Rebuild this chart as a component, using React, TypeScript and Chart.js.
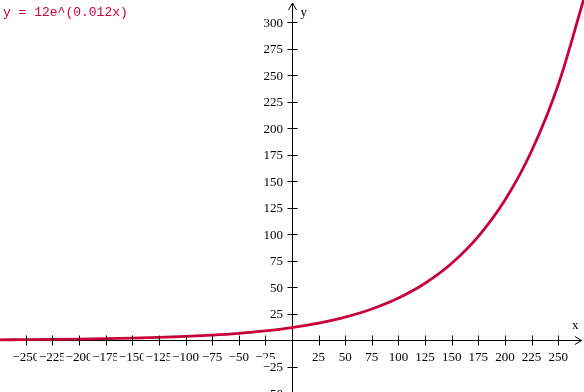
import React, { useEffect, useRef } from "react";
import { Chart, registerables } from "chart.js";

Chart.register(...registerables);

const xValues = [-275, -250, -225, -200, -175, -150, -125, -100, -75, -50, -25, 0, 25, 50, 75, 100, 125, 150, 175, 200, 225, 250, 275];
const yValues = [0.44, 0.6, 0.81, 1.09, 1.47, 1.98, 2.68, 3.61, 4.88, 6.59, 8.89, 12, 16.2, 21.87, 29.52, 39.84, 53.78, 72.6, 97.99, 132.28, 178.56, 241.03, 325.35];

const xTicks = [-250, -225, -200, -175, -150, -125, -100, -75, -50, -25, 25, 50, 75, 100, 125, 150, 175, 200, 225, 250];
const yTicks = [300, 275, 250, 225, 200, 175, 150, 125, 100, 75, 50, 25, -25, -50];

const titleText = "y = 12e^(0.012x)";
const curveColor = "rgb(200,0,60)";

const fmt = (v: number) => (v < 0 ? "\u2212" + Math.abs(v) : String(v));

const axesPlugin = {
  id: "axesPlugin",
  beforeDatasetsDraw(chart: any) {
    const ctx = chart.ctx;
    const xs = chart.scales.x;
    const ys = chart.scales.y;
    const ox = Math.round(xs.getPixelForValue(0)) + 0.5;
    const oy = Math.round(ys.getPixelForValue(0)) + 0.5;
    const { left, right, top, bottom } = chart.chartArea;
    ctx.save();
    ctx.strokeStyle = "#000";
    ctx.lineWidth = 1;
    ctx.beginPath();
    ctx.moveTo(left, oy);
    ctx.lineTo(right - 2, oy);
    ctx.moveTo(ox, bottom);
    ctx.lineTo(ox, top + 3);
    // arrows
    ctx.moveTo(right - 9, oy - 4);
    ctx.lineTo(right - 2.5, oy);
    ctx.lineTo(right - 9, oy + 4);
    ctx.moveTo(ox - 4, top + 10);
    ctx.lineTo(ox, top + 3);
    ctx.lineTo(ox + 4, top + 10);
    ctx.stroke();
    ctx.restore();
  },
  afterDatasetsDraw(chart: any) {
    const ctx = chart.ctx;
    const xs = chart.scales.x;
    const ys = chart.scales.y;
    const ox = Math.round(xs.getPixelForValue(0)) + 0.5;
    const oy = Math.round(ys.getPixelForValue(0)) + 0.5;
    const { right, top } = chart.chartArea;
    ctx.save();
    ctx.strokeStyle = "#000";
    ctx.lineWidth = 1;
    ctx.beginPath();
    xTicks.forEach((v) => {
      const px = Math.round(xs.getPixelForValue(v)) + 0.5;
      ctx.moveTo(px, oy - 5);
      ctx.lineTo(px, oy + 5);
    });
    yTicks.forEach((v) => {
      const py = Math.round(ys.getPixelForValue(v)) + 0.5;
      ctx.moveTo(ox - 5, py);
      ctx.lineTo(ox + 5, py);
    });
    ctx.stroke();

    ctx.font = "13px 'Liberation Serif', 'Times New Roman', serif";
    ctx.textBaseline = "middle";
    // x labels
    ctx.textAlign = "center";
    xTicks.forEach((v) => {
      const px = xs.getPixelForValue(v);
      const t = fmt(v);
      const w = ctx.measureText(t).width;
      ctx.fillStyle = "#fff";
      ctx.fillRect(px - w / 2 - 2, oy + 9, w + 4, 14);
      ctx.fillStyle = "#000";
      ctx.fillText(t, px, oy + 17);
    });
    // y labels
    ctx.textAlign = "right";
    yTicks.forEach((v) => {
      const py = ys.getPixelForValue(v);
      const t = fmt(v);
      const w = ctx.measureText(t).width;
      ctx.fillStyle = "#fff";
      ctx.fillRect(ox - 9.5 - w - 1, py - 8, w + 2, 16);
      ctx.fillStyle = "#000";
      ctx.fillText(t, ox - 9.5, py + 1);
    });
    // axis names
    ctx.textAlign = "left";
    ctx.textBaseline = "alphabetic";
    ctx.fillText("y", ox + 8, top + 16);
    ctx.fillText("x", right - 12, oy - 12);
    // formula
    ctx.font = "13px 'Liberation Mono', 'Courier New', monospace";
    ctx.fillStyle = curveColor;
    ctx.fillText(titleText, 3, 16);
    ctx.restore();
  },
};

export default function App() {
  const ref = useRef<HTMLCanvasElement>(null);
  useEffect(() => {
    document.body.style.margin = "0";
    const canvas = ref.current!;
    const chart = new Chart(canvas, {
      type: "line",
      data: {
        datasets: [
          {
            data: xValues.map((x, i) => ({ x, y: yValues[i] })),
            borderColor: curveColor,
            borderWidth: 2.8,
            pointRadius: 0,
            cubicInterpolationMode: "monotone",
            fill: false,
          },
        ],
      },
      options: {
        animation: false,
        responsive: false,
        maintainAspectRatio: false,
        devicePixelRatio: 1,
        layout: { padding: 0 },
        plugins: { legend: { display: false }, tooltip: { enabled: false }, title: { display: false } },
        events: [],
        scales: {
          x: { type: "linear", min: -274.2, max: 274.2, display: false },
          y: { type: "linear", min: -48.8, max: 321, display: false },
        },
      },
      plugins: [axesPlugin],
    });
    return () => chart.destroy();
  }, []);
  return (
    <canvas
      ref={ref}
      width={584}
      height={392}
      style={{ display: "block", position: "absolute", left: 0, top: 0, width: 584, height: 392 }}
    />
  );
}
